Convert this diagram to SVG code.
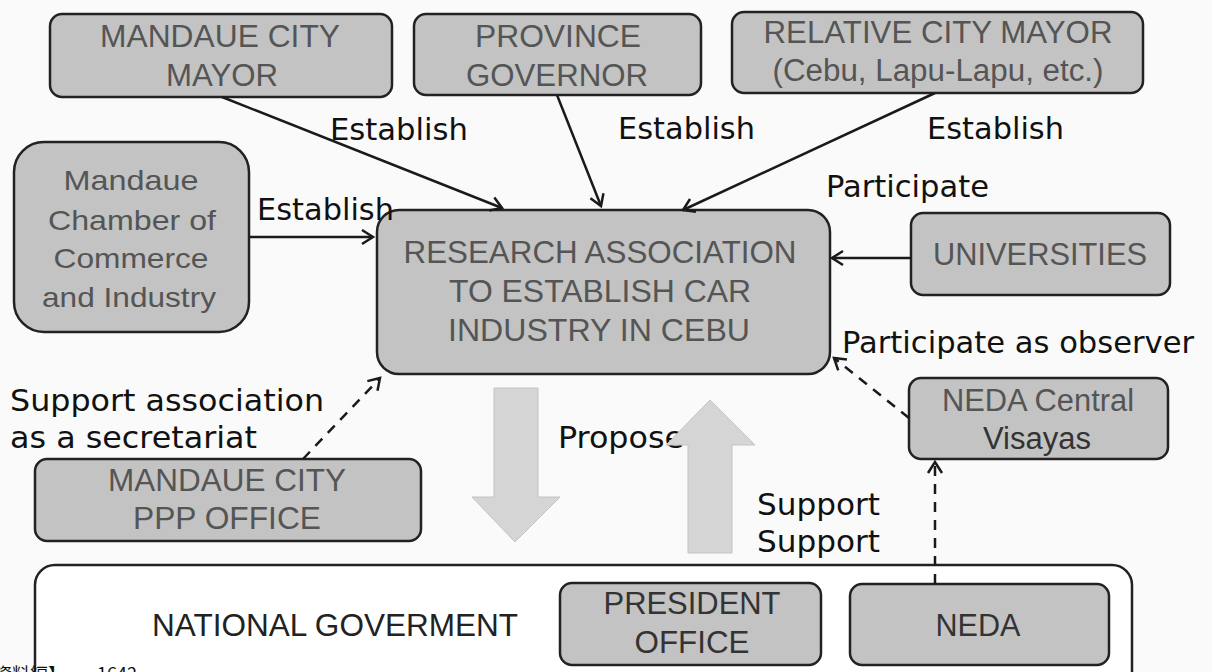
<svg xmlns="http://www.w3.org/2000/svg" width="1212" height="672" viewBox="0 0 1212 672">
<style>
.node{fill:#c3c3c3;stroke:#222;stroke-width:2.5}
.nt{font-family:"Liberation Sans",Arial,sans-serif;font-size:31px;fill:#555;text-anchor:middle}
.dk{fill:#333}
.lbl{font-family:"DejaVu Sans",Verdana,sans-serif;font-size:30px;fill:#111}
.ln{stroke:#1a1a1a;stroke-width:2.5;fill:none}
.dash{stroke:#1a1a1a;stroke-width:2.5;fill:none;stroke-dasharray:10 8}
.big{fill:#d5d5d5;stroke:#c4c4c4;stroke-width:1}
</style>
<defs>
<marker id="ah" markerWidth="16" markerHeight="18" refX="13" refY="9" orient="auto" markerUnits="userSpaceOnUse">
<path d="M2,2 L13,9 L2,16" fill="none" stroke="#1a1a1a" stroke-width="2.5"/>
</marker>
</defs>
<rect width="1212" height="672" fill="#fafafa"/>

<g id="national">
<rect x="35" y="565" width="1097" height="130" rx="20" fill="#fff" stroke="#222" stroke-width="2.5"/>
<text class="nt" x="335" y="636" style="fill:#222" textLength="366" lengthAdjust="spacingAndGlyphs">NATIONAL GOVERMENT</text>
</g>

<g id="mayor">
<rect class="node" x="50" y="14" width="342" height="83" rx="12"/>
<text class="nt" x="220" y="47" textLength="240" lengthAdjust="spacingAndGlyphs">MANDAUE CITY</text>
<text class="nt" x="222" y="86" textLength="112" lengthAdjust="spacingAndGlyphs">MAYOR</text>
</g>
<g id="governor">
<rect class="node" x="414" y="14" width="287" height="81" rx="12"/>
<text class="nt" x="558" y="47" textLength="166" lengthAdjust="spacingAndGlyphs">PROVINCE</text>
<text class="nt" x="557" y="86" textLength="182" lengthAdjust="spacingAndGlyphs">GOVERNOR</text>
</g>
<g id="relative">
<rect class="node" x="732" y="12" width="411" height="81" rx="12"/>
<text class="nt" x="938" y="43" textLength="349" lengthAdjust="spacingAndGlyphs">RELATIVE CITY MAYOR</text>
<text class="nt" x="938" y="81" textLength="331" lengthAdjust="spacingAndGlyphs">(Cebu, Lapu-Lapu, etc.)</text>
</g>
<g id="chamber">
<rect class="node" x="14" y="142" width="235" height="190" rx="30"/>
<text class="nt" x="131" y="190" style="font-size:28px" textLength="135" lengthAdjust="spacingAndGlyphs">Mandaue</text>
<text class="nt" x="132" y="230" style="font-size:28px" textLength="168" lengthAdjust="spacingAndGlyphs">Chamber of</text>
<text class="nt" x="131" y="268" style="font-size:28px" textLength="155" lengthAdjust="spacingAndGlyphs">Commerce</text>
<text class="nt" x="129" y="307" style="font-size:28px" textLength="174" lengthAdjust="spacingAndGlyphs">and Industry</text>
</g>
<g id="research">
<rect class="node" x="377" y="210" width="453" height="164" rx="22"/>
<text class="nt" x="600" y="263" textLength="393" lengthAdjust="spacingAndGlyphs">RESEARCH ASSOCIATION</text>
<text class="nt" x="600" y="302" textLength="302" lengthAdjust="spacingAndGlyphs">TO ESTABLISH CAR</text>
<text class="nt" x="599" y="341" textLength="302" lengthAdjust="spacingAndGlyphs">INDUSTRY IN CEBU</text>
</g>
<g id="universities">
<rect class="node" x="911" y="213" width="259" height="82" rx="12"/>
<text class="nt" x="1040" y="265" textLength="214" lengthAdjust="spacingAndGlyphs">UNIVERSITIES</text>
</g>
<g id="nedacentral">
<rect class="node" x="909" y="378" width="259" height="81" rx="12"/>
<text class="nt" x="1038" y="411" textLength="192" lengthAdjust="spacingAndGlyphs">NEDA Central</text>
<text class="nt dk" x="1037" y="449" textLength="108" lengthAdjust="spacingAndGlyphs">Visayas</text>
</g>
<g id="ppp">
<rect class="node" x="35" y="459" width="386" height="82" rx="12"/>
<text class="nt" x="227" y="491" textLength="238" lengthAdjust="spacingAndGlyphs">MANDAUE CITY</text>
<text class="nt" x="227" y="529" textLength="188" lengthAdjust="spacingAndGlyphs">PPP OFFICE</text>
</g>
<g id="president">
<rect class="node" x="560" y="583" width="261" height="82" rx="12"/>
<text class="nt dk" x="692" y="614" textLength="177" lengthAdjust="spacingAndGlyphs">PRESIDENT</text>
<text class="nt dk" x="692" y="653" textLength="115" lengthAdjust="spacingAndGlyphs">OFFICE</text>
</g>
<g id="neda">
<rect class="node" x="850" y="584" width="259" height="81" rx="12"/>
<text class="nt dk" x="978" y="636" textLength="85" lengthAdjust="spacingAndGlyphs">NEDA</text>
</g>

<g id="connectors">
<line class="ln" x1="222" y1="97" x2="502" y2="208" marker-end="url(#ah)"/>
<line class="ln" x1="557" y1="95" x2="601" y2="206" marker-end="url(#ah)"/>
<line class="ln" x1="935" y1="93" x2="683" y2="210" marker-end="url(#ah)"/>
<line class="ln" x1="249" y1="237" x2="373" y2="237" marker-end="url(#ah)"/>
<line class="ln" x1="911" y1="258" x2="832" y2="258" marker-end="url(#ah)"/>
<line class="dash" x1="909" y1="418" x2="834" y2="358" marker-end="url(#ah)"/>
<line class="dash" x1="303" y1="459" x2="380" y2="378" marker-end="url(#ah)"/>
<line class="dash" x1="935" y1="584" x2="935" y2="462" marker-end="url(#ah)"/>
</g>

<g id="labels">
<text class="lbl" x="330" y="140" textLength="138" lengthAdjust="spacingAndGlyphs">Establish</text>
<text class="lbl" x="618" y="139" textLength="137" lengthAdjust="spacingAndGlyphs">Establish</text>
<text class="lbl" x="927" y="139" textLength="137" lengthAdjust="spacingAndGlyphs">Establish</text>
<text class="lbl" x="257" y="220" textLength="137" lengthAdjust="spacingAndGlyphs">Establish</text>
<text class="lbl" x="826" y="197" textLength="163" lengthAdjust="spacingAndGlyphs">Participate</text>
<text class="lbl" x="842" y="353" textLength="352" lengthAdjust="spacingAndGlyphs">Participate as observer</text>
<text class="lbl" x="10" y="411" textLength="314" lengthAdjust="spacingAndGlyphs">Support association</text>
<text class="lbl" x="10" y="448" textLength="247" lengthAdjust="spacingAndGlyphs">as a secretariat</text>
<text class="lbl" x="558" y="448" textLength="126" lengthAdjust="spacingAndGlyphs">Propose</text>
<text class="lbl" x="757" y="515" textLength="123" lengthAdjust="spacingAndGlyphs">Support</text>
<text class="lbl" x="757" y="552" textLength="123" lengthAdjust="spacingAndGlyphs">Support</text>
</g>

<g id="bigarrows">
<path class="big" d="M494,388 L538,388 L538,497 L560,497 L515,542 L472,497 L494,497 Z"/>
<path class="big" d="M688,553 L732,553 L732,445 L755,445 L710,400 L666,445 L688,445 Z"/>
</g>

<text x="-6" y="681" style="font-family:'Noto Sans CJK JP',sans-serif;font-size:18px;fill:#111">資料編】<tspan x="97">1642</tspan></text>
</svg>
